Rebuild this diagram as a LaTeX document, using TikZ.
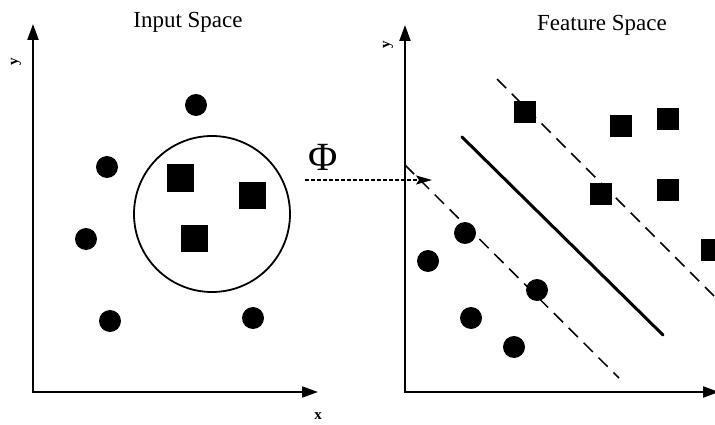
\documentclass[tikz,border=0pt]{standalone}
\usepackage{fontspec}
\setmainfont{Liberation Serif}
\usetikzlibrary{arrows.meta}
\begin{document}
\begin{tikzpicture}[x=1pt,y=-1pt,
  dot/.style={circle,fill=black,minimum size=22pt,inner sep=0pt},
  sqL/.style={rectangle,fill=black,minimum size=27pt,inner sep=0pt},
  sqR/.style={rectangle,fill=black,minimum size=22pt,inner sep=0pt},
  axis/.style={line width=2.2pt,{Triangle[length=16pt,width=11pt]}-{Triangle[length=16pt,width=11pt]}},
  margin/.style={line width=1.5pt,dash pattern=on 13pt off 8pt},
  title/.style={font=\fontsize{23}{26}\selectfont},
  lab/.style={font=\fontsize{15}{16}\selectfont\bfseries}]
\useasboundingbox (0,0) rectangle (715,425);
\clip (0,0) rectangle (715,425);
% ---------- Input space ----------
\node[title] (t1) at (188,22) {Input Space};
\coordinate (ly) at (33,24);
\coordinate (lo) at (33,392);
\coordinate (lx) at (318,392);
\draw[axis] (ly) -- (lo) -- (lx);
\node[lab,rotate=90] (ylab1) at (16,62) {y};
\node[lab] (xlab1) at (318,416) {x};
\node[draw,circle,line width=1.8pt,minimum size=156pt,inner sep=0pt] (ring) at (212,214) {};
\node[dot] (a1) at (196,105) {};
\node[dot] (a2) at (107,167) {};
\node[dot] (a3) at (86,239) {};
\node[dot] (a4) at (110,321) {};
\node[dot] (a5) at (253,318) {};
\node[sqL] (b1) at (180,178) {};
\node[sqL] (b2) at (252,195) {};
\node[sqL] (b3) at (194,238) {};
% ---------- mapping ----------
\node[font=\fontsize{40}{42}\selectfont] (phi) at (323,157) {Φ};
\coordinate (m1) at (305,180);
\coordinate (m2) at (432,180);
\draw[line width=1.2pt,dash pattern=on 4pt off 2pt,-{Stealth[length=16pt,width=9pt,inset=3pt]}] (m1) -- (m2);
% ---------- Feature space ----------
\node[title] (t2) at (602,25) {Feature Space};
\coordinate (ry) at (405,25);
\coordinate (ro) at (405,392);
\coordinate (rx) at (719,392);
\coordinate (d1s) at (405,165);
\coordinate (d1e) at (619,378);
\coordinate (d2s) at (497,79);
\coordinate (d2e) at (725,307);
\coordinate (hs) at (462,137);
\coordinate (he) at (663,335);
\draw[margin] (d1s) -- (d1e);
\draw[margin] (d2s) -- (d2e);
\draw[line width=3pt,line cap=round] (hs) -- (he);
\draw[axis] (ry) -- (ro) -- (rx);
\node[lab,rotate=90] (ylab2) at (388,45) {y};
\node[dot] (c1) at (465,233) {};
\node[dot] (c2) at (428,261) {};
\node[dot] (c3) at (537,290) {};
\node[dot] (c4) at (471,318) {};
\node[dot] (c5) at (514,347) {};
\node[sqR] (e1) at (525,112) {};
\node[sqR] (e2) at (621,126) {};
\node[sqR] (e3) at (668,119) {};
\node[sqR] (e4) at (601,194) {};
\node[sqR] (e5) at (668,190) {};
\node[sqR] (e6) at (712,250) {};
\end{tikzpicture}
\end{document}
